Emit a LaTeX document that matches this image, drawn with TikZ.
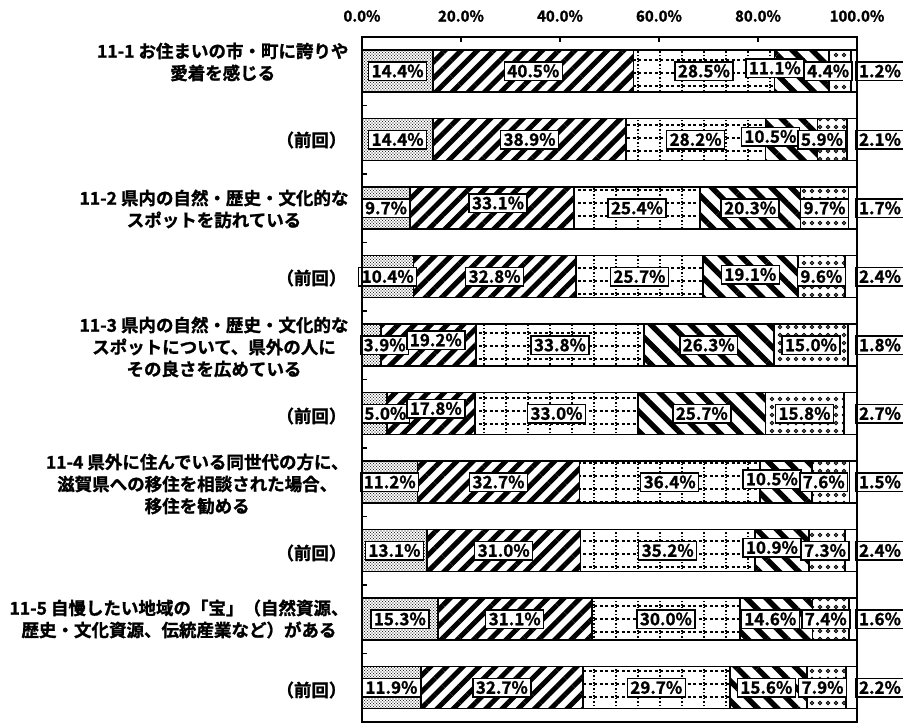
\documentclass[tikz,border=0pt]{standalone}
\usepackage{fontspec}
\setmainfont{Noto Sans CJK JP}[UprightFont=*, BoldFont=* Bold, BoldFeatures={FakeBold=1.3}]
\usetikzlibrary{patterns,patterns.meta}

\pgfdeclarepatternformonly{fdots}{\pgfqpoint{-1pt}{-1pt}}{\pgfqpoint{4pt}{4pt}}{\pgfqpoint{3pt}{3pt}}{%
  \pgfpathcircle{\pgfqpoint{0pt}{0pt}}{0.7pt}%
  \pgfpathcircle{\pgfqpoint{1.5pt}{1.5pt}}{0.5pt}%
  \pgfusepath{fill}}
\pgfdeclarepatternformonly{dotgrid}{\pgfqpoint{-1pt}{-1pt}}{\pgfqpoint{23pt}{15pt}}{\pgfqpoint{22pt}{13pt}}{%
  \pgfsetlinewidth{1.5pt}%
  \pgfsetdash{{1.6pt}{2pt}}{0pt}%
  \pgfpathmoveto{\pgfqpoint{0pt}{0pt}}\pgfpathlineto{\pgfqpoint{0pt}{13pt}}\pgfusepath{stroke}%
  \pgfsetdash{{3pt}{2.5pt}}{0pt}%
  \pgfpathmoveto{\pgfqpoint{0pt}{0pt}}\pgfpathlineto{\pgfqpoint{22pt}{0pt}}\pgfusepath{stroke}}
\pgfdeclarepatternformonly{scallop}{\pgfqpoint{-1pt}{-1pt}}{\pgfqpoint{9pt}{9pt}}{\pgfqpoint{8pt}{8pt}}{%
  \pgfsetlinewidth{1pt}%
  \pgfpathcircle{\pgfqpoint{4pt}{4pt}}{1.6pt}\pgfusepath{stroke}}

\tikzset{
  segbase/.style={draw=black, line width=1.8pt, preaction={fill=white}},
  seg1/.style={segbase, pattern=fdots},
  seg2/.style={segbase, pattern={Lines[angle=45, distance=11.5pt, line width=5pt]}},
  seg3/.style={segbase, pattern=dotgrid},
  seg4/.style={segbase, pattern={Lines[angle=-45, distance=14pt, line width=5.5pt]}},
  seg5/.style={segbase, pattern=scallop},
  seg6/.style={segbase, fill=white},
  lab/.style={draw=black, line width=1.5pt, fill=white,
    font=\bfseries\fontsize{17}{17}\selectfont,
    inner xsep=3pt, inner ysep=3pt, text height=12.5pt, text depth=0pt},
  axlab/.style={font=\bfseries\fontsize{15}{15}\selectfont},
  catlab/.style={anchor=east, align=center, font=\bfseries\fontsize{17.5}{22}\selectfont},
  frame/.style={draw=black, line width=2.2pt},
  tick/.style={draw=black, line width=1.6pt}
}

% #1 bar index, #2 list value/dx/dy
\newcommand\chartrow[2]{%
  \pgfmathsetmacro\yt{50+68.5*(#1-1)}%
  \pgfmathsetmacro\yc{\yt+21}%
  \xdef\tot{0}%
  \foreach \v/\dx/\dy in {#2}{\pgfmathsetmacro\nt{\tot+\v}\xdef\tot{\nt}}%
  \xdef\cum{0}%
  \foreach \v/\dx/\dy [count=\k] in {#2}{%
    \pgfmathsetmacro\xa{362+495*(\cum/\tot)}%
    \pgfmathsetmacro\nc{\cum+\v}%
    \pgfmathsetmacro\xb{362+495*(\nc/\tot)}%
    \path[seg\k] (\xa,\yt) rectangle (\xb,\yt+42);
    \xdef\cum{\nc}}%
  \xdef\cum{0}%
  \foreach \v/\dx/\dy [count=\k] in {#2}{%
    \pgfmathsetmacro\xa{362+495*(\cum/\tot)}%
    \pgfmathsetmacro\nc{\cum+\v}%
    \pgfmathsetmacro\xb{362+495*(\nc/\tot)}%
    \ifnum\k=6 \def\lx{880}\else\pgfmathsetmacro\lx{(\xa+\xb)/2+\dx}\fi
    \node[lab] (b#1-\k) at (\lx,\yc+\dy) {\v\%};
    \xdef\cum{\nc}}%
}

\begin{document}
\begin{tikzpicture}[x=1pt,y=-1pt]
\useasboundingbox (0,0) rectangle (903,723);
\fill[white] (0,0) rectangle (903,723);

% axis labels
\foreach \t [count=\j from 0] in {0.0,20.0,40.0,60.0,80.0,100.0}
  \node[axlab] (ax\j) at (362+99*\j,16) {\t\%};

% bars
\chartrow{1}{14.4/0/0, 40.5/0/0, 28.5/0/0, 11.1/-27/-3, 4.4/-12/0, 1.2/0/0}
\chartrow{2}{14.4/0/0, 38.9/0/0, 28.2/0/0, 10.5/-21/-3, 5.9/-10/0, 2.1/0/0}
\chartrow{3}{9.7/0/0, 33.1/6/-5, 25.4/0/0, 20.3/0/0, 9.7/0/0, 1.7/0/0}
\chartrow{4}{10.4/0/0, 32.8/0/0, 25.7/0/0, 19.1/0/-2, 9.6/0/0, 2.4/0/0}
\chartrow{5}{3.9/13/0, 19.2/7/-5, 33.8/0/0, 26.3/0/0, 15.0/0/0, 1.8/0/0}
\chartrow{6}{5.0/11/0, 17.8/5/-5, 33.0/0/0, 25.7/0/0, 15.8/0/0, 2.7/0/0}
\chartrow{7}{11.2/0/0, 32.7/0/0, 36.4/0/0, 10.5/-14/-3, 7.6/-7/0, 1.5/0/0}
\chartrow{8}{13.1/0/0, 31.0/0/0, 35.2/0/0, 10.9/-10/-3, 7.3/-2/0, 2.4/0/0}
\chartrow{9}{15.3/0/0, 31.1/0/0, 30.0/0/0, 14.6/-6/0, 7.4/-5/0, 1.6/0/0}
\chartrow{10}{11.9/0/0, 32.7/0/0, 29.7/0/0, 15.6/-2/0, 7.9/-4/0, 2.2/0/0}

% frame and ticks
\draw[frame] (362,37) rectangle (857,722);
\foreach \j in {1,...,4} \draw[tick] (362+99*\j,37) -- (362+99*\j,42);
\foreach \j in {1,...,9} \draw[tick] (362,37+68.5*\j) -- (367,37+68.5*\j);

% category labels
\node[catlab] (c1) at (352,62) {11-1 お住まいの市・町に誇りや\\愛着を感じる};
\node[catlab] (c2) at (350,140) {（前回）};
\node[catlab] (c3) at (352,209) {11-2 県内の自然・歴史・文化的な\\スポットを訪れている};
\node[catlab] (c4) at (350,278) {（前回）};
\node[catlab] (c5) at (352,347) {11-3 県内の自然・歴史・文化的な\\スポットについて、県外の人に\\その良さを広めている};
\node[catlab] (c6) at (350,416) {（前回）};
\node[catlab] (c7) at (352,484) {11-4 県外に住んでいる同世代の方に、\\滋賀県への移住を相談された場合、\\移住を勧める};
\node[catlab] (c8) at (350,553) {（前回）};
\node[catlab] (c9) at (352,619) {11-5 自慢したい地域の「宝」（自然資源、\\歴史・文化資源、伝統産業など）がある};
\node[catlab] (c10) at (350,690) {（前回）};
\end{tikzpicture}
\end{document}
